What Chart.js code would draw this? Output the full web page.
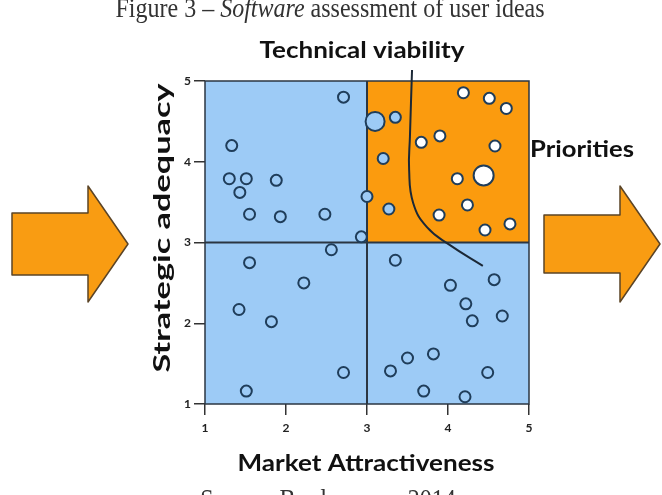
<!DOCTYPE html>
<html>
<head>
<meta charset="utf-8">
<script src="https://cdn.jsdelivr.net/npm/chart.js@4.4.1/dist/chart.umd.min.js"></script>
<style>
  html, body { margin: 0; padding: 0; background: #fff; }
  #wrap { width: 662px; height: 495px; }
</style>
</head>
<body>
<div id="wrap"><canvas id="chart" width="662" height="495"></canvas></div>
<script>
  // axis ticks
  const tickValues = [1, 2, 3, 4, 5];

  // ideas outside the priority zone (blue fill)
  const otherX = [2.71, 1.33, 1.30, 1.51, 1.43, 1.88, 1.55, 1.93, 2.48, 2.93, 2.56, 1.55, 2.22, 1.42, 1.82, 2.71, 1.51,
                  3.35, 4.57, 4.03, 4.22, 4.30, 4.67, 3.82, 3.50, 3.29, 4.49, 3.70, 4.21];
  const otherY = [4.80, 4.20, 3.79, 3.79, 3.62, 3.77, 3.35, 3.32, 3.35, 3.07, 2.91, 2.75, 2.50, 2.17, 2.02, 1.39, 1.16,
                  2.78, 2.54, 2.47, 2.24, 2.03, 2.09, 1.62, 1.57, 1.41, 1.39, 1.16, 1.09];

  // attractive ideas left of the viability curve (blue fill)
  const blockedX = [3.00, 3.35, 3.20, 3.27];
  const blockedY = [3.57, 4.55, 4.04, 3.415];
  const blockedBigX = [3.10];
  const blockedBigY = [4.50];

  // priorities (white fill)
  const priorityX = [4.19, 4.51, 4.72, 3.67, 3.90, 4.58, 4.115, 4.24, 3.89, 4.457, 4.765];
  const priorityY = [4.855, 4.785, 4.66, 4.24, 4.32, 4.195, 3.79, 3.465, 3.34, 3.155, 3.23];
  const priorityBigX = [4.44];
  const priorityBigY = [3.83];

  // technical viability boundary
  const curveX = [3.556, 3.53, 3.52, 3.57, 3.74, 4.02, 4.43];
  const curveY = [5.136, 4.31, 3.90, 3.49, 3.19, 2.97, 2.71];

  const BLUE = "#9dcbf6";
  const ORANGE = "#fb9b0e";
  const NAVY = "#1f3d5a";
  const LINE = "#2b3642";

  function pts(xs, ys) {
    return xs.map((x, i) => ({ x: x, y: ys[i] }));
  }

  function arrow(ctx, x0, tipX, cy, shaftH, headX, headH) {
    ctx.beginPath();
    ctx.moveTo(x0, cy - shaftH / 2);
    ctx.lineTo(headX, cy - shaftH / 2);
    ctx.lineTo(headX, cy - headH / 2);
    ctx.lineTo(tipX, cy);
    ctx.lineTo(headX, cy + headH / 2);
    ctx.lineTo(headX, cy + shaftH / 2);
    ctx.lineTo(x0, cy + shaftH / 2);
    ctx.closePath();
    ctx.fillStyle = "#f99c12";
    ctx.fill();
    ctx.lineWidth = 1.5;
    ctx.strokeStyle = "#5b4426";
    ctx.lineJoin = "round";
    ctx.stroke();
  }

  // text squeezed or stretched to a given width (the original is distorted)
  function fitText(ctx, text, x, y, width, align) {
    const w = ctx.measureText(text).width;
    ctx.save();
    ctx.translate(x, y);
    ctx.scale(width / w, 1);
    ctx.textAlign = align;
    ctx.fillText(text, 0, 0);
    ctx.restore();
  }

  // quadrants, frame, arrows and labels
  const decor = {
    id: "decor",
    beforeDraw(chart) {
      const ctx = chart.ctx;
      ctx.save();
      ctx.fillStyle = "#fff";
      ctx.fillRect(0, 0, chart.width, chart.height);
      ctx.restore();
    },
    beforeDatasetsDraw(chart) {
      const ctx = chart.ctx;
      const xs = chart.scales.x, ys = chart.scales.y;
      const x1 = xs.getPixelForValue(1), x3 = xs.getPixelForValue(3), x5 = xs.getPixelForValue(5);
      const y1 = ys.getPixelForValue(1), y3 = ys.getPixelForValue(3), y5 = ys.getPixelForValue(5);
      ctx.save();
      ctx.fillStyle = BLUE;
      ctx.fillRect(x1, y5, x5 - x1, y1 - y5);
      ctx.fillStyle = ORANGE;
      ctx.fillRect(x3, y5, x5 - x3, y3 - y5);
      ctx.strokeStyle = LINE;
      ctx.lineWidth = 2;
      ctx.beginPath();
      ctx.moveTo(x3, y5); ctx.lineTo(x3, y1);
      ctx.moveTo(x1, y3); ctx.lineTo(x5, y3);
      ctx.stroke();
      ctx.lineWidth = 1.5;
      ctx.strokeRect(x1, y5, x5 - x1, y1 - y5);
      ctx.restore();
    },
    afterDraw(chart) {
      const ctx = chart.ctx;
      ctx.save();
      arrow(ctx, 12, 128, 244, 62, 88, 116);
      arrow(ctx, 544, 660, 244, 58, 620, 116);

      ctx.fillStyle = "#111";
      ctx.textBaseline = "alphabetic";
      ctx.font = "bold 22px Lato";
      fitText(ctx, "Technical viability", 362, 58, 205, "center");
      fitText(ctx, "Market Attractiveness", 366, 471, 257, "center");
      fitText(ctx, "Priorities", 530, 157, 104, "left");

      // stretched vertical title
      ctx.save();
      ctx.translate(170, 228);
      ctx.rotate(-Math.PI / 2);
      ctx.textAlign = "center";
      const w = ctx.measureText("Strategic adequacy").width;
      ctx.scale(289 / w, 1);
      ctx.fillText("Strategic adequacy", 0, 0);
      ctx.restore();

      // caption and source, serif, a little taller than wide
      ctx.fillStyle = "#333";
      const parts = [["Figure 3 – ", "24px 'Liberation Serif'"], ["Software", "italic 24px 'Liberation Serif'"],
                     [" assessment of user ideas", "24px 'Liberation Serif'"]];
      let total = 0;
      parts.forEach(p => { ctx.font = p[1]; total += ctx.measureText(p[0]).width; });
      ctx.save();
      ctx.translate(330 - total / 2, 17);
      ctx.scale(1, 1.15);
      let cx = 0;
      ctx.textAlign = "left";
      parts.forEach(p => { ctx.font = p[1]; ctx.fillText(p[0], cx, 0); cx += ctx.measureText(p[0]).width; });
      ctx.restore();

      ctx.save();
      ctx.translate(328, 508);
      ctx.scale(1, 1.15);
      ctx.font = "24px 'Liberation Serif'";
      ctx.textAlign = "center";
      ctx.fillText("Source: Bredemeyer, 2014", 0, 0);
      ctx.restore();
      ctx.restore();
    }
  };

  const dot = (data, fill, r) => ({
    data: data,
    backgroundColor: fill,
    borderColor: NAVY,
    borderWidth: 2,
    pointRadius: r,
    pointHoverRadius: r,
    showLine: false
  });

  new Chart(document.getElementById("chart"), {
    type: "scatter",
    data: {
      datasets: [
        dot(pts(priorityBigX, priorityBigY), "#fff", 10),
        dot(pts(priorityX, priorityY), "#fff", 5.5),
        dot(pts(blockedBigX, blockedBigY), BLUE, 9.5),
        dot(pts(blockedX, blockedY), BLUE, 5.5),
        dot(pts(otherX, otherY), BLUE, 5.5),
        {
          data: pts(curveX, curveY),
          showLine: true,
          tension: 0.45,
          borderColor: "#1b2836",
          borderWidth: 2,
          pointRadius: 0,
          clip: false
        }
      ]
    },
    options: {
      responsive: false,
      animation: false,
      events: [],
      layout: { padding: { left: 0, top: 81, right: 133, bottom: 51 } },
      plugins: { legend: { display: false }, tooltip: { enabled: false } },
      scales: {
        x: {
          type: "linear",
          min: 1, max: 5,
          afterFit(scale) { scale.height = 40; },
          afterBuildTicks(scale) { scale.ticks = tickValues.map(v => ({ value: v })); },
          grid: { drawOnChartArea: false, tickLength: 11, color: "#333", lineWidth: 1.5 },
          border: { display: false },
          ticks: { color: "#222", font: { family: "Lato", weight: "bold", size: 12 }, padding: 6 }
        },
        y: {
          type: "linear",
          min: 1, max: 5,
          afterFit(scale) { scale.width = 205; },
          afterBuildTicks(scale) { scale.ticks = tickValues.map(v => ({ value: v })); },
          grid: { drawOnChartArea: false, tickLength: 11, color: "#333", lineWidth: 1.5 },
          border: { display: false },
          ticks: { color: "#222", font: { family: "Lato", weight: "bold", size: 12 }, padding: 3 }
        }
      }
    },
    plugins: [decor]
  });
</script>
</body>
</html>
